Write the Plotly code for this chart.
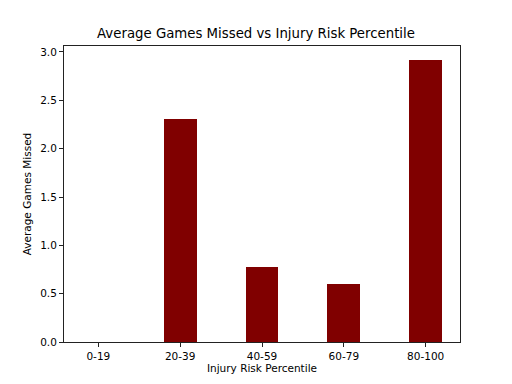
import plotly.graph_objects as go

categories = ["0-19", "20-39", "40-59", "60-79", "80-100"]
avg_games_missed = [0.0, 2.31, 0.775, 0.60, 2.92]

x_pos = list(range(len(categories)))

fig = go.Figure(go.Bar(
    x=x_pos, y=avg_games_missed, width=0.4,
    marker=dict(color="#800000", line=dict(width=0)),
    hoverinfo="skip",
))

font = "DejaVu Sans, sans-serif"
fig.update_layout(
    width=512, height=384,
    margin=dict(l=64, r=52, t=46, b=42),
    paper_bgcolor="white", plot_bgcolor="white",
    font=dict(family=font, size=10.5, color="black"),
    title=dict(text="Average Games Missed vs Injury Risk Percentile",
               x=0.5, xanchor="center", y=1 - 33/384, yanchor="middle",
               font=dict(size=13.3, family=font)),
    showlegend=False,
    bargap=0,
)
fig.update_xaxes(
    range=[-0.42, 4.42], tickvals=x_pos, ticktext=categories,
    showgrid=False, zeroline=False,
    showline=True, linecolor="#222222", linewidth=1, mirror=True,
    ticks="outside", ticklen=4, tickcolor="#222222",
    title=dict(text="Injury Risk Percentile", standoff=4, font=dict(size=10.5)),
)
fig.update_yaxes(
    range=[0, 3.062], tickvals=[0, 0.5, 1.0, 1.5, 2.0, 2.5, 3.0],
    ticktext=["0.0", "0.5", "1.0", "1.5", "2.0", "2.5", "3.0"],
    showgrid=False, zeroline=False,
    showline=True, linecolor="#222222", linewidth=1, mirror=True,
    ticks="outside", ticklen=4, tickcolor="#222222",
    title=dict(text="Average Games Missed", standoff=6, font=dict(size=10.5)),
)

fig.write_html("out.html", config={"displayModeBar": False},
               post_script="document.body.style.margin='0';document.body.style.padding='0';")
